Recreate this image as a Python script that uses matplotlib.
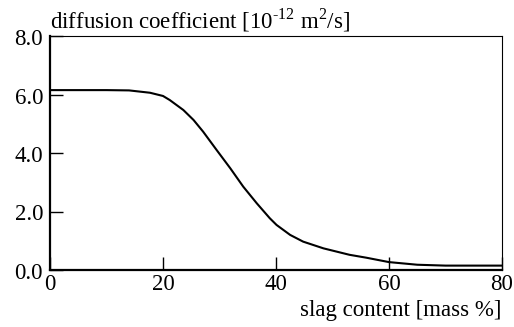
import numpy as np
import matplotlib
matplotlib.use('Agg')
import matplotlib.pyplot as plt
from matplotlib.transforms import ScaledTranslation

plt.rcParams['font.family'] = ['Liberation Serif', 'DejaVu Serif']
plt.rcParams['mathtext.fontset'] = 'custom'
plt.rcParams['mathtext.rm'] = 'Liberation Serif'

# 数据
slag = [0, 10, 14, 17.7, 20, 21.2, 23.6, 25.4, 27.1, 29.5, 31.9, 34.2, 36.6,
        38.9, 40.1, 42.5, 44.8, 48.4, 53, 56, 60, 65, 70, 80]
diff = [6.15, 6.15, 6.14, 6.06, 5.95, 5.81, 5.47, 5.13, 4.73, 4.10, 3.48, 2.85,
        2.28, 1.77, 1.54, 1.20, 0.97, 0.74, 0.52, 0.42, 0.27, 0.18, 0.15, 0.15]
xticks = [0, 20, 40, 60, 80]
yticks = [0, 2, 4, 6, 8]

fig = plt.figure(figsize=(5.14, 3.27), dpi=100)
ax = fig.add_axes([50 / 514, 1 - 270 / 327, 452 / 514, 234 / 327])

ax.plot(slag, diff, color='black', lw=1.5)

ax.set_xlim(0, 80)
ax.set_ylim(0, 8)
ax.set_xticks(xticks)
ax.set_xticklabels([str(v) for v in xticks])
ax.set_yticks(yticks)
ax.set_yticklabels([f'{v:.1f}' for v in yticks])
ax.tick_params(direction='in', length=9.5, width=1, labelsize=16.5,
               colors='black')
ax.tick_params(axis='x', pad=3)
ax.tick_params(axis='y', pad=5)
# y刻度标签稍微下移
for lab in ax.get_yticklabels():
    lab.set_transform(lab.get_transform() +
                      ScaledTranslation(0, -1 / 100, fig.dpi_scale_trans))

for s in ['left', 'bottom']:
    ax.spines[s].set_linewidth(1.6)
for s in ['top', 'right']:
    ax.spines[s].set_linewidth(0.8)

fig.text(50 / 514, 1 - 28 / 327,
         'diffusion coefficient [10$^{\\mathregular{\u2010}12}$ m$^{\\mathregular{2}}$/s]',
         fontsize=16.5, ha='left', va='baseline')
fig.text(502 / 514, 1 - 316 / 327, 'slag content [mass %]',
         fontsize=16.5, ha='right', va='baseline')

fig.savefig('out.png', dpi=100)
